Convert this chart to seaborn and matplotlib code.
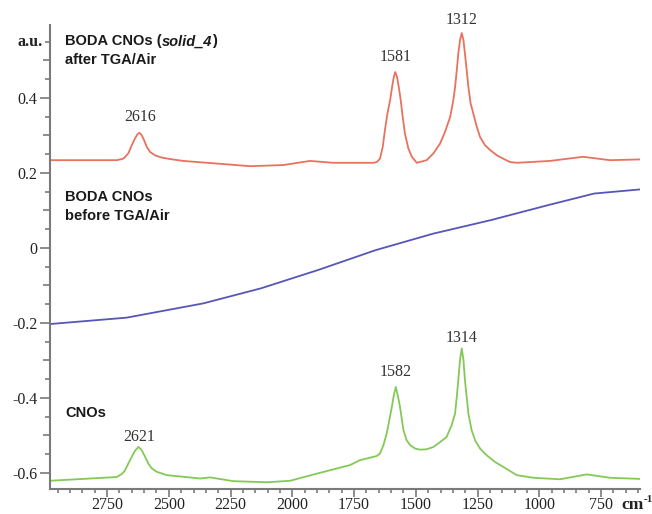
import numpy as np
import pandas as pd
import matplotlib
matplotlib.use("Agg")
import matplotlib.pyplot as plt
from matplotlib.offsetbox import TextArea, HPacker, AnnotationBbox
import seaborn as sns

# ---- data (wavenumber cm^-1, intensity a.u.) ----
red_x = [2981, 2711, 2684, 2664, 2650, 2637, 2627, 2619, 2610, 2600, 2589, 2576, 2556,
         2529, 2495, 2441, 2306, 2171, 2037, 1928, 1835, 1766, 1672,
         1658, 1645, 1634, 1625, 1615, 1604, 1596, 1589, 1583, 1576, 1569, 1561, 1553,
         1544, 1530, 1516, 1496,
         1456, 1429, 1402, 1382, 1361, 1348, 1341, 1334, 1328, 1321, 1314, 1307, 1301,
         1294, 1287, 1278, 1267, 1253, 1240, 1220, 1199, 1172, 1146, 1118, 1091,
         957, 823, 714, 592]
red_y = [0.234, 0.234, 0.238, 0.252, 0.274, 0.292, 0.303, 0.307, 0.301, 0.287, 0.269,
         0.256, 0.247, 0.241, 0.237, 0.232, 0.225, 0.218, 0.221, 0.232, 0.227, 0.227, 0.227,
         0.229, 0.238, 0.269, 0.314, 0.358, 0.394, 0.429, 0.456, 0.469, 0.456, 0.429,
         0.394, 0.349, 0.305, 0.265, 0.243, 0.227,
         0.234, 0.252, 0.278, 0.309, 0.349, 0.394, 0.429, 0.474, 0.518, 0.554, 0.573,
         0.554, 0.518, 0.474, 0.429, 0.385, 0.358, 0.323, 0.296, 0.274, 0.261, 0.247,
         0.238, 0.229, 0.227,
         0.232, 0.243, 0.234, 0.236]

blue_x = [2981, 2671, 2361, 2128, 1896, 1663, 1430, 1197, 965, 778, 592]
blue_y = [-0.203, -0.186, -0.148, -0.108, -0.059, -0.006, 0.038, 0.074, 0.114, 0.145, 0.156]

green_x = [2981, 2846, 2711, 2690, 2677, 2664, 2650, 2637, 2623, 2610, 2596, 2583, 2569,
           2549, 2508, 2373, 2333, 2239, 2103, 2009, 1901, 1766, 1726, 1658,
           1645, 1631, 1618, 1607, 1597, 1589, 1581, 1573, 1564, 1557, 1550, 1537, 1523,
           1503, 1483, 1456, 1429, 1402, 1375, 1355, 1341, 1334, 1328, 1321, 1314, 1307,
           1301, 1294, 1287, 1274, 1260, 1240, 1213, 1179, 1146,
           1091, 1024, 916, 808, 714, 592]
green_y = [-0.621, -0.616, -0.611, -0.603, -0.593, -0.575, -0.557, -0.541, -0.531, -0.539,
           -0.557, -0.575, -0.588, -0.597, -0.606, -0.615, -0.612, -0.622, -0.625, -0.621,
           -0.602, -0.579, -0.566, -0.555,
           -0.548, -0.526, -0.495, -0.459, -0.424, -0.393, -0.371, -0.393, -0.424, -0.455,
           -0.486, -0.513, -0.526, -0.535, -0.538, -0.537, -0.531, -0.518, -0.504, -0.473,
           -0.442, -0.397, -0.353, -0.299, -0.268, -0.299, -0.353, -0.397, -0.442, -0.486,
           -0.513, -0.535, -0.553, -0.571, -0.584,
           -0.606, -0.613, -0.617, -0.604, -0.613, -0.616]

peak_labels = ["2616", "1581", "1312", "2621", "1582", "1314"]
peak_label_x = [2616, 1580, 1314, 2621, 1582, 1314]
peak_label_y = [0.349, 0.509, 0.607, -0.505, -0.331, -0.241]

x_ticks = [2750, 2500, 2250, 2000, 1750, 1500, 1250, 1000, 750]
y_ticks = [-0.6, -0.4, -0.2, 0.0, 0.2, 0.4]
y_tick_labels = ["-0.6", "-0.4", "-0.2", "0", "0.2", "0.4"]

# ---- build table ----
df = pd.concat([
    pd.DataFrame({"x": red_x, "y": red_y, "s": "red"}),
    pd.DataFrame({"x": blue_x, "y": blue_y, "s": "blue"}),
    pd.DataFrame({"x": green_x, "y": green_y, "s": "green"}),
], ignore_index=True)

sns.set_style("ticks")
plt.rcParams["axes.unicode_minus"] = False

fig = plt.figure(figsize=(6.52, 5.14), dpi=100)
ax = fig.add_axes([0.0767, 0.0486, 0.905, 0.9024])

colors = {"red": "#e8725e", "blue": "#5656b8", "green": "#84c958"}
for key in ["red", "blue", "green"]:
    sub = df[df["s"] == key]
    sns.lineplot(data=sub, x="x", y="y", ax=ax, color=colors[key], linewidth=1.3,
                 sort=False, estimator=None)

ax.set_xlim(2981, 592)
ax.set_ylim(-0.643, 0.594)
ax.set_xlabel("")
ax.set_ylabel("")

gray = "#7a7a7a"
for side in ["top", "right"]:
    ax.spines[side].set_visible(False)
for side in ["left", "bottom"]:
    ax.spines[side].set_color(gray)
    ax.spines[side].set_linewidth(1.5)

ax.set_xticks(x_ticks)
ax.set_xticklabels([str(v) for v in x_ticks], family="Liberation Serif", fontsize=11.5,
                   color="#222222")
ax.set_xticks(np.arange(600, 2981, 50), minor=True)
ax.set_yticks(y_ticks)
ax.set_yticklabels(y_tick_labels, family="Liberation Serif", fontsize=11.5, color="#222222")
ax.set_yticks([-0.5, -0.3, -0.1, 0.1, 0.3, 0.5], minor=True)
ax.tick_params(axis="y", which="major", direction="out", length=7, width=1.2,
               color=gray, pad=2)
ax.tick_params(axis="x", which="major", direction="out", length=5.5, width=1.2,
               color=gray, pad=0.2)
ax.tick_params(axis="y", which="minor", direction="out", length=5, width=1.2, color=gray)
ax.tick_params(axis="x", which="minor", direction="out", length=3, width=1.2, color=gray)

sec = ax.secondary_yaxis("left")
sec.spines["left"].set_visible(False)
sec.set_yticks([-0.55, -0.45, -0.35, -0.25, -0.15, -0.05, 0.05, 0.15, 0.25, 0.35, 0.45, 0.55])
sec.set_yticklabels([])
sec.tick_params(axis="y", direction="out", length=3.5, width=1.2, color=gray)

# a.u. and cm-1
ax.text(-0.013, 0.55, "a.u.", transform=ax.get_yaxis_transform(), ha="right",
        va="center", family="Liberation Serif", fontweight="bold", fontsize=11.5,
        color="#222222")
fig.text(621 / 652, 1 - 505 / 514, "cm", family="Liberation Serif",
         fontweight="bold", fontsize=12.5, ha="left", va="center", color="#222222")
fig.text(644 / 652, 1 - 499 / 514, "-1", family="Liberation Serif",
         fontweight="bold", fontsize=8, ha="left", va="center", color="#222222")

# series labels
lab_kw = dict(family="Liberation Sans", fontweight="bold", fontsize=10.5, color="#1a1a1a",
              ha="left", va="center")
base_props = dict(family="Liberation Sans", fontweight="bold", fontsize=10.5, color="#1a1a1a")
ital_props = dict(base_props, style="italic")
title_box = HPacker(children=[TextArea("BODA CNOs (", textprops=base_props),
                              TextArea("solid_4", textprops=ital_props),
                              TextArea(")", textprops=base_props)],
                    pad=0, sep=0, align="baseline")
ab = AnnotationBbox(title_box, (2920, 0.551), xycoords="data", box_alignment=(0, 0.5),
                    frameon=False, pad=0)
ax.add_artist(ab)
ax.text(2920, 0.500, "after TGA/Air", **lab_kw)
ax.text(2920, 0.137, "BODA CNOs", **lab_kw)
ax.text(2920, 0.085, "before TGA/Air", **lab_kw)
ax.text(2920, -0.441, "CNOs", **lab_kw)

for lab, px, py in zip(peak_labels, peak_label_x, peak_label_y):
    ax.text(px, py, lab, ha="center", va="center", family="Liberation Serif",
            fontsize=11.5, color="#333333", clip_on=False)

fig.savefig("out.png", dpi=100)
